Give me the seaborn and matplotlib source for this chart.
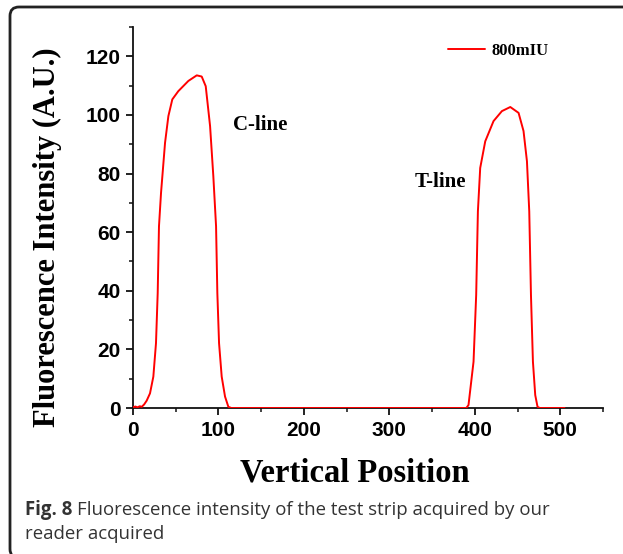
import numpy as np
import pandas as pd
import seaborn as sns
from matplotlib import pyplot as plt
from matplotlib.patches import FancyBboxPatch
from matplotlib.ticker import MultipleLocator

# profile (vertical position vs intensity)
position = [0, 3, 5, 8, 10.2, 13, 16, 19.9, 23.8, 26.9, 28.9, 30.4, 32.8, 37.5, 41.4,
            46, 53, 64.8, 74.6, 80.4, 85.1, 90.2, 94, 97.2, 98.7, 100.7, 103.8, 107.7,
            111.6, 115, 120,
            390, 392.6, 398.5, 401.6, 403.6, 406.3, 412.2, 421.9, 431.7, 441.5, 451.2,
            457, 461, 463.7, 465.7, 468, 470.7, 473.4, 476, 480, 505]
intensity = [0.3, 0.5, 0.2, 0.6, 0.4, 1.2, 2.5, 5.0, 10.7, 22.1, 39.2, 62, 73.4, 90.5,
             99.6, 105.3, 108.1, 111.6, 113.5, 113.1, 109.8, 96.2, 79.1, 62, 39.2, 22.1,
             10.7, 3.9, 0.4, 0, 0,
             0, 1.0, 15.8, 38.6, 67.1, 81.9, 91, 97.9, 101.3, 102.7, 100.7,
             94.5, 84.2, 67.1, 38.6, 15.8, 4.4, 0.4, 0, 0, 0]
series_name = '800mIU'
peak_labels = ['C-line', 'T-line']
peak_label_pos = [(117, 96.5), (330, 77)]
x_ticks = [0, 100, 200, 300, 400, 500]
y_ticks = [0, 20, 40, 60, 80, 100, 120]

df = pd.DataFrame({'pos': position, 'val': intensity, 'conc': series_name})

sns.set_style('ticks')
plt.rcParams['font.family'] = ['Liberation Sans', 'DejaVu Sans']
plt.rcParams['text.color'] = 'black'
plt.rcParams['xtick.color'] = '#111111'
plt.rcParams['ytick.color'] = '#111111'

fig = plt.figure(figsize=(6.23, 5.54), dpi=100)
ax = fig.add_axes([133/623, 1-408/554, (603-133)/623, (408-27)/554])

sns.lineplot(data=df, x='pos', y='val', hue='conc', palette=['#ff0000'],
             sort=False, estimator=None, lw=1.4, ax=ax, zorder=3)

ax.set_xlim(0, 550)
ax.set_ylim(0, 130)
ax.set_xticks(x_ticks)
ax.set_yticks(y_ticks)
ax.xaxis.set_minor_locator(MultipleLocator(50))
ax.yaxis.set_minor_locator(MultipleLocator(10))
for s in ['top', 'right']:
    ax.spines[s].set_visible(False)
for s in ['left', 'bottom']:
    ax.spines[s].set_linewidth(1.3)
    ax.spines[s].set_color('#111111')
ax.tick_params(which='major', length=5, width=1.3, labelsize=15, pad=4,
               color='#111111', labelcolor='black')
ax.tick_params(which='minor', length=3, width=1.1, color='#111111')
for lab in ax.get_xticklabels() + ax.get_yticklabels():
    lab.set_fontweight('bold')
ax.set_xlabel('')
ax.set_ylabel('')
ax.patch.set_alpha(0)

serif = ['Liberation Serif', 'DejaVu Serif']
fig.text(47/623, 1-237/554, 'Fluorescence Intensity (A.U.)', rotation=90, ha='center',
         va='center', fontsize=22, fontweight='bold', family=serif)
fig.text(355/623, 1-481/554, 'Vertical Position', ha='center', va='baseline',
         fontsize=23.5, fontweight='bold', family=serif)

for txt, (px, py) in zip(peak_labels, peak_label_pos):
    ax.text(px, py, txt, ha='left', va='center', fontsize=15, fontweight='bold', family=serif)

leg = ax.legend(loc='upper left', bbox_to_anchor=(440/623, 1-35/554), bbox_transform=fig.transFigure,
                frameon=False, handlelength=2.2, handletextpad=0.4, borderpad=0,
                prop={'family': serif, 'weight': 'bold', 'size': 12})
leg.set_title(None)

# caption
cap_color = '#333333'
cap_font = ['Open Sans', 'DejaVu Sans']
t1 = fig.text(25/623, 1-515/554, 'Fig. 8', fontsize=13.4, fontweight='bold',
              family=cap_font, color=cap_color, va='baseline')
fig.canvas.draw()
bb = t1.get_window_extent()
fig.text((bb.x1 + 5)/623, 1-515/554, 'Fluorescence intensity of the test strip acquired by our',
         fontsize=13.4, family=cap_font, color=cap_color, va='baseline')
fig.text(25/623, 1-539/554, 'reader acquired', fontsize=13.4,
         family=cap_font, color=cap_color, va='baseline')

# rounded frame around the figure panel (right and bottom run off the page)
frame = FancyBboxPatch((10, -4), 700, 554-7+4, boxstyle='round,pad=0,rounding_size=9',
                       transform=None, fill=False, lw=2, ec='#222222')
fig.patches.append(frame)

fig.savefig('out.png', dpi=100)
